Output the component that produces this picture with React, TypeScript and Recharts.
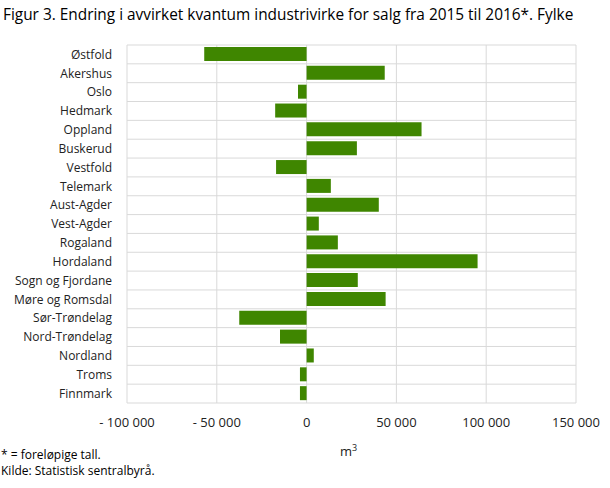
import React from 'react';
import { BarChart, Bar, XAxis, YAxis, CartesianGrid } from 'recharts';

const categories = [
  'Østfold', 'Akershus', 'Oslo', 'Hedmark', 'Oppland', 'Buskerud', 'Vestfold', 'Telemark',
  'Aust-Agder', 'Vest-Agder', 'Rogaland', 'Hordaland', 'Sogn og Fjordane', 'Møre og Romsdal',
  'Sør-Trøndelag', 'Nord-Trøndelag', 'Nordland', 'Troms', 'Finnmark',
];
const values = [
  -57000, 43500, -4800, -17500, 64000, 28000, -17000, 13500,
  40200, 6800, 17400, 95200, 28500, 44000,
  -37500, -14800, 4000, -3700, -3700,
];
const xTicks = [-100000, -50000, 0, 50000, 100000, 150000];

const data = categories.map((name, i) => ({ name, value: values[i] }));

const fmt = (v: number) => {
  const s = Math.abs(v).toString().replace(/\B(?=(\d{3})+(?!\d))/g, ' ');
  return v < 0 ? '- ' + s : s;
};

const FONT = '"Open Sans", sans-serif';

export default function App() {
  const n = categories.length;
  return (
    <div style={{ position: 'absolute', left: 0, top: 0, width: 610, height: 488, fontFamily: FONT, color: '#000' }}>
      <div style={{ position: 'absolute', left: 3, top: 5, fontSize: 15.4, lineHeight: '20px', whiteSpace: 'nowrap', color: '#000' }}>
        Figur 3. Endring i avvirket kvantum industrivirke for salg fra 2015 til 2016*. Fylke
      </div>
      <BarChart
        width={610}
        height={488}
        data={data}
        layout="vertical"
        margin={{ top: 45, right: 34, bottom: 40, left: 0 }}
        barCategoryGap={5}
      >
        <CartesianGrid
          stroke="#d9d9d9"
          strokeWidth={1}
          horizontalCoordinatesGenerator={({ offset }: any) =>
            Array.from({ length: n + 1 }, (_, i) => offset.top + (i * offset.height) / n)
          }
        />
        <XAxis
          type="number"
          domain={[-100000, 150000]}
          ticks={xTicks}
          tickFormatter={fmt}
          axisLine={false}
          tickLine={false}
          tickSize={0}
          tickMargin={15}
          height={45}
          interval={0}
          tick={{ fontSize: 13, fill: '#222', fontFamily: FONT }}
        />
        <YAxis
          type="category"
          dataKey="name"
          width={127}
          axisLine={false}
          tickLine={false}
          tickSize={0}
          tickMargin={15}
          interval={0}
          tick={{ fontSize: 12, fill: '#222', fontFamily: FONT }}
        />
        <Bar dataKey="value" fill="#3f8600" barSize={14} isAnimationActive={false} />
      </BarChart>
      <div style={{ position: 'absolute', left: 340, top: 441, fontSize: 13, color: '#222' }}>
        m<sup style={{ fontSize: 9 }}>3</sup>
      </div>
      <div style={{ position: 'absolute', left: 1, top: 447, fontSize: 12, color: '#000', lineHeight: '16px' }}>
        <div>* = foreløpige tall.</div>
        <div>Kilde: Statistisk sentralbyrå.</div>
      </div>
    </div>
  );
}
